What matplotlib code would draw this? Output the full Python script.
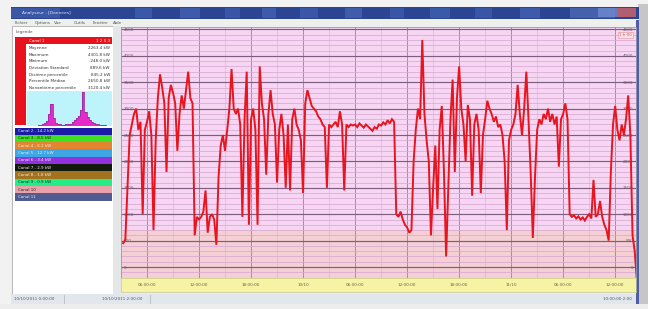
import numpy as np
import matplotlib
matplotlib.use("Agg")
import matplotlib.pyplot as plt
from matplotlib.patches import Rectangle
from matplotlib.ticker import MultipleLocator, FixedLocator

W, H = 648, 309

# ---------------- data ----------------
start_hour = -20.75          # hours relative to 10/10 00:00
step_hour = 0.25             # 15 minute samples
values = [
    450, 520, 1500, 2500, 2700, 2900, 3000, 2600, 2750, 1000, 2600, 2750,
    2950, 2500, 700, 2400, 3200, 3650, 3400, 3100, 1800, 3200, 3450, 3300,
    3100, 2200, 2900, 3250, 3000, 3350, 3700, 3200, 3100, 600, 950, 900,
    950, 1050, 1450, 650, 950, 1000, 900, 420, 1700, 2300, 2500, 2200,
    2600, 3000, 3750, 3000, 2900, 3000, 2700, 950, 2800, 3700, 800, 2800,
    3000, 2600, 800, 3800, 3100, 2800, 1750, 2900, 3350, 2900, 2700, 1600,
    2600, 2900, 2500, 1500, 2700, 1450, 2800, 3000, 2700, 2600, 2400, 1400,
    3100, 3350, 3200, 3050, 3000, 2950, 2850, 2800, 2700, 2650, 1500, 2700,
    2650, 2700, 2750, 2650, 2950, 2700, 1450, 2700, 2650, 2700, 2680, 2700,
    2650, 2720, 2680, 2640, 2700, 2660, 2620, 2580, 2650, 2620, 2700, 2680,
    2740, 2700, 2780, 2720, 2800, 2750, 1000, 950, 1050, 900, 800, 750,
    650, 700, 2000, 2600, 3000, 2800, 4300, 2900, 2400, 2000, 600, 1500,
    2300, 1100, 2600, 3050, 1800, 200, 1500, 2800, 3550, 1800, 3200, 3800,
    3000, 2700, 2000, 3070, 2800, 1350, 2700, 2900, 2600, 1400, 2500, 2800,
    3150, 3000, 2900, 2750, 2850, 2650, 2700, 2500, 2000, 700, 2400, 2600,
    2700, 2900, 3450, 2900, 2500, 3000, 3700, 2800, 1800, 550, 1700, 2600,
    2800, 2700, 2900, 2800, 3000, 2750, 2900, 2700, 2850, 1900, 2800, 2900,
    3100, 2800, 1000, 950, 980, 920, 960, 900, 940, 880, 950, 1000,
    920, 1650, 950, 1000, 1250, 950, 800, 700, 500, 1800, 2700, 3050,
    2600, 2400, 2700, 2500, 2800, 3250, 2500, 600, 300, -250,
]
band_low, band_high = -208, 700      # salmon band
ytick_values = [0, 500, 1000, 1500, 2000, 2500, 3000, 3500, 4000, 4500]
xtick_hours = [-18, -12, -6, 0, 6, 12, 18, 24, 30, 36]
xtick_labels = ["06:00:00", "12:00:00", "18:00:00", "10/10", "06:00:00",
                "12:00:00", "18:00:00", "11/10", "06:00:00", "12:00:00"]
hist_counts = [0, 0, 0, 0, 0.5, 1, 1.5, 2, 3, 5, 12, 22, 8, 3, 2, 2, 1.5, 1.5,
               2, 2, 2.5, 4, 6, 8, 10, 16, 34, 14, 9, 6, 4, 3, 2, 2, 1.5, 1,
               1, 0.5, 0.3, 0]
stat_labels = ["Moyenne", "Maximum", "Minimum", "Déviation Standard",
               "Dixième percentile", "Percentile Médian", "Nonantième percentile"]
stat_values = ["2263.4 kW", "4301.8 kW", "-248.0 kW", "889.6 kW",
               "845.2 kW", "2650.8 kW", "3120.4 kW"]
legend_labels = ["Canal 2 - 14.2 kW", "Canal 3 - 8.5 kW", "Canal 4 - 6.1 kW",
                 "Canal 5 - 12.7 kW", "Canal 6 - 3.4 kW", "Canal 7 - 2.9 kW",
                 "Canal 8 - 1.8 kW", "Canal 9 - 0.9 kW", "Canal 10", "Canal 11"]
legend_colors = ["#1a1aa6", "#3fe024", "#e2852e", "#3fa6e6", "#9232de",
                 "#121a0e", "#a2721e", "#22ee84", "#e8a2aa", "#525a92"]
menu_items = ["Fichier", "Options", "Vue", "Outils", "Fenêtre", "Aide"]

# ---------------- figure ----------------
fig = plt.figure(figsize=(W / 100, H / 100), dpi=100)
fig.patch.set_facecolor("#f2f2f2")


def axes_px(x0, y0, x1, y1):
    return fig.add_axes([x0 / W, 1 - y1 / H, (x1 - x0) / W, (y1 - y0) / H])


bg = fig.add_axes([0, 0, 1, 1])
bg.set_xlim(0, W)
bg.set_ylim(H, 0)
bg.axis("off")


def rect(x0, y0, x1, y1, color, **kw):
    bg.add_patch(Rectangle((x0, y0), x1 - x0, y1 - y0, facecolor=color,
                           edgecolor=kw.pop("ec", "none"), lw=kw.pop("lw", 0.6), **kw))


# shadow / outer
rect(638, 4, 648, 309, "#c6c6c6")
rect(0, 304, 648, 309, "#ededed")
# window
rect(11, 7, 639, 304, "#eceff2")
# title bar
rect(11, 7, 639, 19, "#2b4592")
for xa, xb, c in [(11, 60, "#4f70c0"), (135, 152, "#4d6fc4"), (180, 200, "#5378c8"),
                  (225, 240, "#4a6abf"), (262, 276, "#5578c9"), (300, 318, "#4d6dc2"),
                  (345, 362, "#5a7ccb"), (390, 404, "#4c6cc0"), (430, 450, "#5073c6"),
                  (475, 492, "#4a6abf"), (520, 540, "#5577c8"), (570, 615, "#6684cc")]:
    rect(xa, 8, xb, 18, c, alpha=0.45)
rect(598, 8, 608, 17, "#6f8ad0", alpha=0.8)
rect(608, 8, 618, 17, "#6f8ad0", alpha=0.8)
rect(618, 8, 636, 17, "#c9646a", alpha=0.85)
bg.text(22, 13, "Analyseur - [Données]", fontsize=3.2, color="#dfe6f6", va="center")
# menu bar
rect(11, 19, 639, 26, "#eef0ec")
for i, m in enumerate(menu_items):
    bg.text(15 + i * 19.5, 23, m, fontsize=3.0, color="#555555", va="center")
# left panel
rect(12, 26, 113, 294, "#ffffff", ec="#b0b0b0")
rect(113, 26, 121, 294, "#e4e6e8")
bg.text(16, 32, "Légende", fontsize=3.0, color="#555555", va="center")
rect(15, 37, 112, 44, "#e8121c")
rect(15, 37, 26, 125, "#e8121c")
bg.text(29, 40.5, "Canal 1", fontsize=3.0, color="#ffffff", va="center")
bg.text(110, 40.5, "1 2 5 3", fontsize=3.0, color="#ffffff", va="center", ha="right")
for i, (lab, val) in enumerate(zip(stat_labels, stat_values)):
    yy = 48 + i * 6.7
    bg.text(29, yy, lab, fontsize=3.0, color="#333333", va="center")
    bg.text(110, yy, val, fontsize=3.0, color="#333333", va="center", ha="right")
y0 = 127.5
for lab, col in zip(legend_labels, legend_colors):
    rect(15, y0, 112, y0 + 7.3, col)
    tc = "#222222" if col in ("#3fe024", "#22ee84", "#e8a2aa") else "#f0f0f0"
    bg.text(18, y0 + 3.6, lab, fontsize=2.9, color=tc, va="center")
    y0 += 7.3
# status bar
rect(11, 294, 639, 304, "#e2e7ee")
bg.plot([64, 64], [295, 303], color="#b8bec8", lw=0.6)
bg.plot([150, 150], [295, 303], color="#b8bec8", lw=0.6)
bg.text(14, 299, "10/10/2011 0:00:00", fontsize=3.0, color="#556", va="center")
bg.text(102, 299, "10/10/2011 2:00:00", fontsize=3.0, color="#556", va="center")
bg.text(632, 299, "10:00:00 2:00", fontsize=3.0, color="#556", va="center", ha="right")
# right window border
rect(636, 20, 639, 304, "#4d5ea6")

# ---------------- histogram ----------------
axh = axes_px(27, 91, 112, 126)
axh.set_facecolor("#bdf3fb")
xb = np.arange(len(hist_counts))
axh.bar(xb, hist_counts, width=1.0, color="#e52ac8", edgecolor="none")
axh.step(xb, hist_counts, where="mid", color="#9a2aa8", lw=0.6)
axh.set_xlim(-0.5, len(hist_counts) - 0.5)
axh.set_ylim(0, 35)
axh.set_xticks([]); axh.set_yticks([])
for s in axh.spines.values():
    s.set_visible(False)

# ---------------- main chart ----------------
times = start_hour + step_hour * np.arange(len(values))
ax = axes_px(121, 27, 636, 278)
ax.set_facecolor("#f7d6f3")
ax.axhspan(band_low, band_high, color="#f4cfd3", zorder=0, lw=0)
ax.set_xlim(-21.0, 38.4)
ax.set_ylim(band_low, 4546)
ax.yaxis.set_major_locator(FixedLocator(ytick_values))
ax.yaxis.set_minor_locator(MultipleLocator(100))
ax.xaxis.set_major_locator(FixedLocator(xtick_hours))
ax.xaxis.set_minor_locator(MultipleLocator(3))
ax.grid(which="minor", axis="y", color="#d8a9d3", lw=0.55, zorder=1)
ax.grid(which="major", axis="y", color="#7e5e80", lw=0.85, zorder=1)
ax.grid(which="minor", axis="x", color="#dab8d6", lw=0.5, zorder=1)
ax.grid(which="major", axis="x", color="#a98aa8", lw=0.7, zorder=1)
ax.set_axisbelow(True)
ax.plot(times, values, color="#e8141e", lw=1.4, zorder=3, solid_joinstyle="miter")
ax.tick_params(axis="x", which="both", length=0, labelbottom=False)
ax.tick_params(axis="y", which="both", length=0, labelsize=3.0,
               labelcolor="#6a5a6a", pad=-2, labelleft=True, labelright=True)
for t in ax.yaxis.get_major_ticks():
    t.label1.set_horizontalalignment("left")
    t.label2.set_horizontalalignment("right")
for s in ax.spines.values():
    s.set_color("#9a9aa8")
    s.set_linewidth(0.6)
ax.text(0.992, 0.975, "1 h 00", transform=ax.transAxes, fontsize=3.0,
        color="#e05050", ha="right", va="top",
        bbox=dict(boxstyle="square,pad=0.2", fc="#f9e2ea", ec="#e89090", lw=0.4))

# ---------------- time band ----------------
axy = axes_px(121, 278, 636, 292)
axy.set_facecolor("#f7f3a4")
axy.set_xlim(ax.get_xlim())
axy.set_ylim(0, 1)
axy.set_yticks([])
axy.set_xticks(xtick_hours)
axy.set_xticklabels(xtick_labels)
axy.tick_params(axis="x", length=0, labelsize=3.0, labelcolor="#666650", pad=-6.5)
for s in axy.spines.values():
    s.set_color("#c8c890")
    s.set_linewidth(0.5)

fig.savefig("out.png", dpi=100, facecolor=fig.get_facecolor())
